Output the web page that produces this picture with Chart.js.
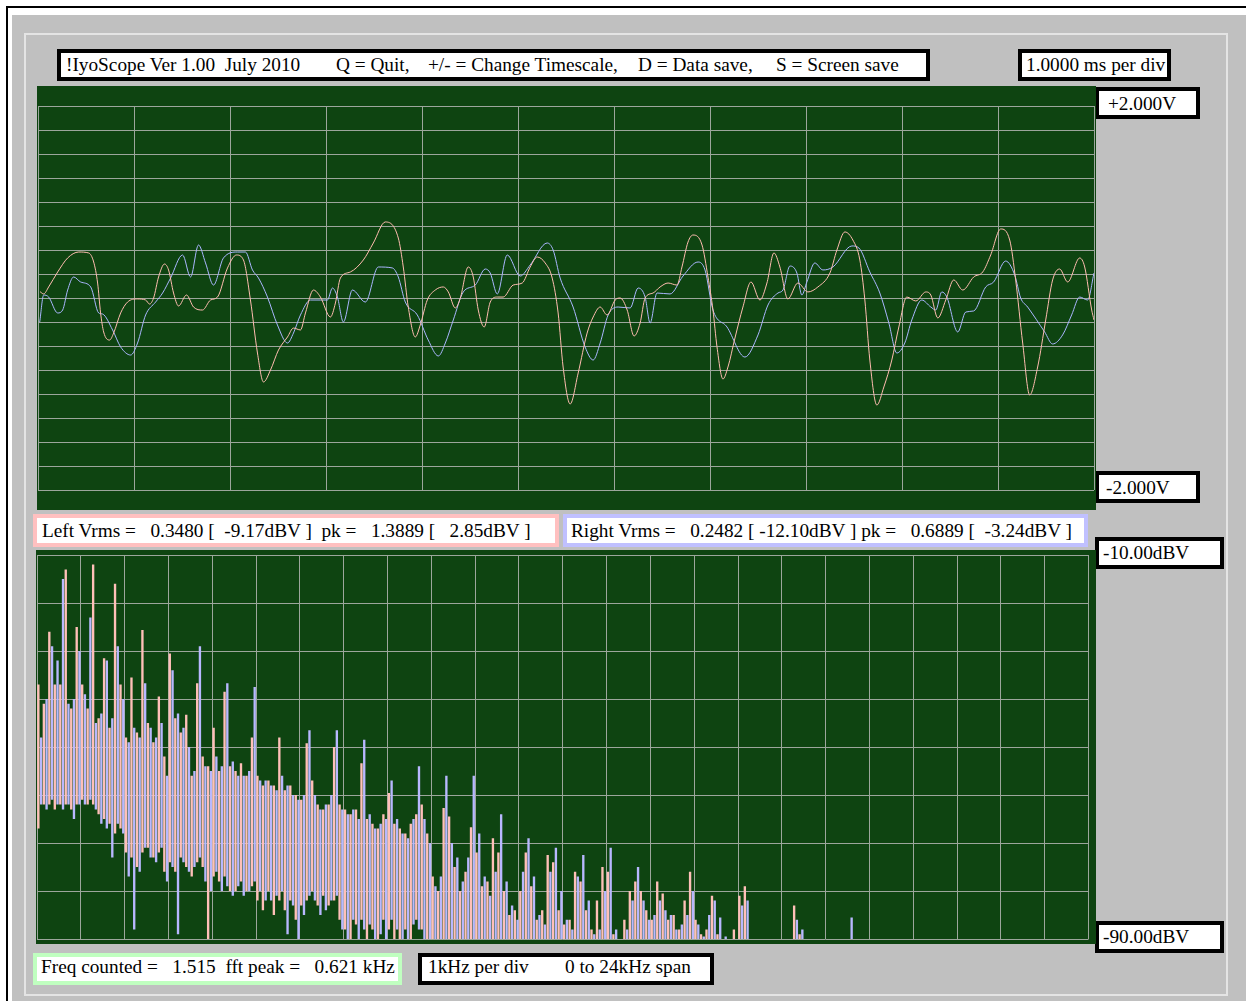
<!DOCTYPE html>
<html>
<head>
<meta charset="utf-8">
<title>!IyoScope</title>
<script src="https://cdn.jsdelivr.net/npm/chart.js@4.4.1/dist/chart.umd.min.js"></script>
<style>
  html, body { margin: 0; padding: 0; background: #fff; width: 1246px; height: 1001px; overflow: hidden; position: relative; }
  #frame { position: absolute; left: 6px; top: 6px; width: 1400px; height: 1200px; border-left: 2px solid #000; border-top: 2px solid #000; }
  #panel { position: absolute; left: 12px; top: 15px; width: 1400px; height: 1200px; background: #c0c0c0; }
  #inner { position: absolute; left: 24px; top: 33px; width: 1200px; height: 959px; border: 2px solid #e4e4e4; }
  .box { position: absolute; background: #fff; box-sizing: border-box; border: 4px solid #000; }
  .t { position: absolute; font-family: "Liberation Serif", "Times New Roman", serif; font-size: 19.3px; line-height: 19px; color: #000; white-space: pre; }
  canvas { position: absolute; background: #0e4411; }
</style>
</head>
<body>
<div id="frame"></div>
<div id="panel"></div>
<div id="inner"></div>

<!-- header -->
<div class="box" style="left:57px;top:49px;width:873px;height:32px;"></div>
<span class="t" style="left:66px;top:55px;">!IyoScope Ver 1.00  July 2010</span>
<span class="t" style="left:336px;top:55px;">Q = Quit,</span>
<span class="t" style="left:428px;top:55px;">+/- = Change Timescale,</span>
<span class="t" style="left:638px;top:55px;">D = Data save,</span>
<span class="t" style="left:776px;top:55px;">S = Screen save</span>

<div class="box" style="left:1018px;top:49px;width:153px;height:32px;"></div>
<span class="t" style="left:1026px;top:55px;">1.0000 ms per div</span>

<!-- waveform scale labels -->
<div class="box" style="left:1095px;top:87px;width:105px;height:32px;"></div>
<span class="t" style="left:1108px;top:94px;">+2.000V</span>
<div class="box" style="left:1095px;top:471px;width:105px;height:32px;"></div>
<span class="t" style="left:1106px;top:478px;">-2.000V</span>

<!-- channel readouts -->
<div class="box" style="left:33px;top:514px;width:526px;height:33px;border-color:#ffc0c0;"></div>
<span class="t" style="left:42px;top:521px;">Left Vrms =   0.3480 [  -9.17dBV ]  pk =   1.3889 [   2.85dBV ]</span>
<div class="box" style="left:563px;top:514px;width:525px;height:33px;border-color:#c0c0ff;"></div>
<span class="t" style="left:571px;top:521px;">Right Vrms =   0.2482 [ -12.10dBV ] pk =   0.6889 [  -3.24dBV ]</span>

<!-- spectrum scale labels -->
<div class="box" style="left:1095px;top:537px;width:129px;height:32px;"></div>
<span class="t" style="left:1103px;top:543px;">-10.00dBV</span>
<div class="box" style="left:1095px;top:921px;width:129px;height:32px;"></div>
<span class="t" style="left:1103px;top:927px;">-90.00dBV</span>

<!-- footer -->
<div class="box" style="left:33px;top:953px;width:369px;height:32px;border-color:#c0ffc0;"></div>
<span class="t" style="left:41px;top:957px;">Freq counted =   1.515  fft peak =   0.621 kHz</span>
<div class="box" style="left:418px;top:953px;width:296px;height:32px;"></div>
<span class="t" style="left:428px;top:957px;">1kHz per div</span>
<span class="t" style="left:565px;top:957px;">0 to 24kHz span</span>

<canvas id="wave" width="1059" height="424" style="left:37px;top:86px;"></canvas>
<canvas id="spec" width="1060" height="394" style="left:36px;top:550px;"></canvas>

<script>
// ---- Time-domain capture: time in ms, level in volts ----
const leftTimeMs = [
  0.021,0.059,0.111,0.205,0.309,0.424,0.528,0.580,0.621,0.652,
  0.684,0.746,0.788,0.861,0.933,1.037,1.121,1.162,1.204,1.256,
  1.318,1.360,1.412,1.464,1.547,1.620,1.714,1.797,1.870,1.974,
  2.068,2.140,2.213,2.286,2.349,2.422,2.505,2.599,2.661,2.734,
  2.786,2.869,2.942,3.046,3.098,3.150,3.254,3.389,3.493,3.618,
  3.753,3.805,3.857,3.930,3.982,4.055,4.138,4.222,4.274,4.347,
  4.399,4.482,4.534,4.586,4.648,4.711,4.784,4.846,4.950,5.044,
  5.127,5.200,5.283,5.356,5.418,5.470,5.543,5.627,5.720,5.783,
  5.856,5.928,6.012,6.064,6.137,6.209,6.272,6.324,6.407,6.480,
  6.563,6.656,6.708,6.771,6.823,6.917,6.979,7.031,7.073,7.135,
  7.187,7.260,7.343,7.427,7.520,7.593,7.666,7.728,7.811,7.915,
  8.020,8.124,8.249,8.322,8.405,8.488,8.561,8.613,8.665,8.738,
  8.811,8.894,8.967,9.050,9.144,9.248,9.300,9.373,9.456,9.539,
  9.633,9.747,9.841,9.924,10.028,10.122,10.184,10.257,10.330,10.413,
  10.497,10.569,10.642,10.726,10.851,10.903,10.976,11.0
];
const leftVolts = [
  0.066,0.042,0.115,0.271,0.417,0.479,0.469,0.375,0.156,-0.156,
  -0.354,-0.438,-0.365,-0.156,-0.042,-0.010,-0.021,-0.063,0,0.219,
  0.354,0.292,0.052,-0.083,0.031,-0.094,-0.125,-0.021,0.010,0.313,
  0.448,0.396,-0.021,-0.573,-0.875,-0.750,-0.542,-0.406,-0.313,-0.333,
  -0.156,0.083,0.010,-0.198,-0.052,0.208,0.271,0.396,0.573,0.792,
  0.625,0.323,-0.094,-0.406,-0.281,-0.021,0.083,0.115,0.063,-0.104,
  0,0.323,0.219,-0.125,-0.302,-0.042,0.010,0.010,0.135,0.156,
  0.323,0.427,0.365,0.208,-0.156,-0.719,-1.104,-0.781,-0.365,-0.198,
  -0.094,-0.177,-0.021,0,-0.125,-0.396,-0.260,0,0.052,0.115,
  0.156,0.135,0.323,0.583,0.656,0.552,0.219,-0.125,-0.510,-0.844,
  -0.719,-0.417,-0.094,0.167,-0.021,0.156,0.469,0.323,-0.010,0.156,
  0.063,0.115,0.260,0.500,0.688,0.604,0.396,-0.021,-0.646,-1.115,
  -0.927,-0.646,-0.302,0.010,-0.031,0.063,0.031,-0.208,-0.021,0.188,
  0.083,0.219,0.271,0.448,0.719,0.604,0.188,-0.469,-1.010,-0.719,
  -0.229,0.188,0.302,0.167,0.417,0.323,-0.125,-0.229
];
const rightTimeMs = [
  0.018,0.059,0.111,0.205,0.257,0.309,0.371,0.444,0.549,0.632,
  0.673,0.777,0.861,0.965,1.037,1.121,1.225,1.298,1.381,1.506,
  1.589,1.672,1.745,1.828,1.932,2.078,2.161,2.234,2.297,2.390,
  2.494,2.599,2.661,2.734,2.838,2.942,3.015,3.067,3.119,3.181,
  3.275,3.410,3.545,3.691,3.753,3.826,3.951,4.065,4.170,4.243,
  4.326,4.430,4.555,4.659,4.711,4.784,4.888,5.023,5.127,5.304,
  5.366,5.439,5.574,5.699,5.783,5.856,5.939,6.043,6.168,6.251,
  6.324,6.376,6.448,6.584,6.719,6.875,6.948,7.031,7.177,7.364,
  7.500,7.604,7.708,7.760,7.833,7.905,7.957,8.009,8.092,8.176,
  8.280,8.478,8.551,8.665,8.769,8.863,8.946,9.029,9.102,9.206,
  9.300,9.352,9.414,9.467,9.581,9.664,9.747,9.872,9.955,10.080,
  10.174,10.236,10.309,10.486,10.569,10.673,10.767,10.851,10.934,11.0
];
const rightVolts = [
  -0.250,0.031,0.010,-0.156,-0.125,0.083,0.219,0.167,0.115,-0.156,
  -0.167,-0.333,-0.510,-0.594,-0.469,-0.177,-0.042,0.052,0.208,0.448,
  0.219,0.552,0.365,0.135,0.417,0.479,0.479,0.292,0.208,0.010,
  -0.281,-0.469,-0.365,-0.177,-0.021,-0.021,-0.021,0.104,0.010,-0.250,
  0.083,-0.042,0.323,0.313,0.219,-0.042,-0.177,-0.438,-0.604,-0.469,
  -0.229,0.063,0.135,0.302,0.260,0.042,0.448,0.229,0.344,0.573,
  0.500,0.208,-0.094,-0.510,-0.646,-0.469,-0.177,-0.094,-0.104,0.104,
  0.010,-0.260,0.052,0.042,0.229,0.375,0.292,-0.125,-0.302,-0.615,
  -0.385,-0.073,0.052,0.083,0.333,0.260,0.031,0.167,0.365,0.292,
  0.323,0.542,0.521,0.271,0.052,-0.260,-0.573,-0.469,-0.229,-0.021,
  -0.094,-0.125,0.063,0.010,-0.354,-0.146,-0.135,0.115,0.167,0.385,
  0.240,0,-0.094,-0.354,-0.479,-0.385,-0.177,0.010,-0.021,0.260
];

// ---- Spectrum: 0.125 kHz bins from 0 Hz; top and bottom of each bin's trace in dBV ----
const leftPeakDb = [
  -37,-41,-26,-37,-37,-13,-42,-25,-37,-42,
  -12,-44,-31.5,-46,-16,-37,-48,-35.5,-47,-25.6,
  -45,-49,-39.5,-52,-30.5,-44,-47,-43.3,-56,-36.7,
  -52,-54,-46,-55,-38.5,-54,-55,-53.4,-56,-48,
  -56,-58,-57,-58,-48,-59,-58,-60,-61,-49.2,
  -57,-62,-63,-62,-50,-62,-63,-64,-63,-53.4,
  -65,-66,-67,-64,-59.6,-66,-67,-68,-66,-64,
  -62,-68,-77,-80,-62.7,-64.5,-75,-80,-76,-66.7,
  -72,-79,-78,-69,-72,-80,-85,-84,-80,-72,
  -79,-86,-84,-72.5,-74,-84,-87,-86,-76,-78,
  -84,-88,-82,-75,-76,-89,null,-86,-80,-78,
  -80,-84,-86,-78,-80.5,-86,-85,-88,-82,-76,
  -86,-89,-88,-81,-89,null,null,-88,-81,-79,
  null,null,null,null,null,null,null,null,-83,-89,
  null,null,null,null,null,null,null,null,null
];
const leftFloorDb = [
  -67,-62,-62,-63,-62,-62,-63,-62,-61,-62,
  -62,-64,-65,-66,-68,-67,-72,-73,-75,-72,
  -71,-73,-72,-76,-74,-76,-73,-75,-77,-74,
  -75,-90,-77,-78,-77,-80,-80,-78,-80,-79,
  -82,-84,-80,-85,-82,-84,-82,-86,-83,-82,
  -80,-83,-81,-83,-82,-86,-88,-90,-87,-86,
  -90,-88,-90,-86,-88,-90,-90,-88,-90,-86,
  -88,-90,-90,-90,-90,-90,-90,-90,-90,-90,
  -90,-90,-90,-90,-90,-90,-90,-90,-90,-90,
  -90,-90,-90,-90,-90,-90,-90,-90,-90,-90,
  -90,-90,-90,-90,-90,-90,-90,-90,-90,-90,
  -90,-90,-90,-90,-90,-90,-90,-90,-90,-90,
  -90,-90,-90,-90,-90,-90,-90,-90,-90,-90,
  -90,-90,-90,-90,-90,-90,-90,-90,-90,-90,
  -90,-90,-90,-90,-90,-90,-90,-90,-90
];
const rightPeakDb = [
  -48,-40,-29,-32,-15,-41,-40,-30,-39,-23,
  -45,-43,-32,-44,-29,-40,-49,-46,-48,-36.7,
  -46,-48,-45,-56,-34,-43,-46,-50,-55,-29,
  -54,-55,-52,-54,-36.7,-53,-56,-56,-55,-37.5,
  -57,-57,-58,-59,-56,-58,-60,-61,-60,-46.5,
  -60,-63,-62,-60,-46.5,-63,-64,-63,-65,-48.5,
  -64,-67,-66,-65,-57,-65,-68,-69,-65,-54,
  -65,-70,-79,-77,-56,-70,-73,-78,-73,-56,
  -68,-77,-81,-76,-64,-78,-83,-86,-76,-69,
  -77,-85,-87,-76,-71,-80,-86,-88,-77,-72.5,
  -82,-89,-88,-80,-71,-88,null,-88,-82,-75,
  -82,-86,-85,-82,-84,-85,-88,-87,-85,-80,
  -87,-89.5,-85,-82,-85.5,-89.5,null,null,-83,-82,
  null,null,null,null,null,null,null,null,-86,-88,
  null,null,null,null,null,null,null,null,-85.5
];
const rightFloorDb = [
  -62,-63,-61,-62,-63,-62,-65,-62,-62,-61,
  -63,-66,-67,-73,-66,-68,-77,-88,-76,-71,
  -73,-74,-71,-78,-75,-89,-74,-76,-75,-73,
  -78,-80,-76,-80,-79,-81,-79,-81,-80,-78,
  -80,-82,-82,-81,-80,-89,-83,-90,-85,-81,
  -82,-85,-84,-82,-81,-88,-90,-86,-90,-88,
  -87,-90,-89,-90,-86,-88,-90,-90,-87,-88,
  -90,-90,-90,-90,-90,-90,-90,-90,-90,-90,
  -90,-90,-90,-90,-90,-90,-90,-90,-90,-90,
  -90,-90,-90,-90,-90,-90,-90,-90,-90,-90,
  -90,-90,-90,-90,-90,-90,-90,-90,-90,-90,
  -90,-90,-90,-90,-90,-90,-90,-90,-90,-90,
  -90,-90,-90,-90,-90,-90,-90,-90,-90,-90,
  -90,-90,-90,-90,-90,-90,-90,-90,-90,-90,
  -90,-90,-90,-90,-90,-90,-90,-90,-90
];

// ---- Display settings ----
const MS_PER_DIV = 1, TIME_DIVS = 11;
const VOLT_TOP = 2, VOLT_BOTTOM = -2, VOLT_STEP = 0.25;
const DB_TOP = -10, DB_BOTTOM = -90, DB_STEP = 10;
const SPAN_KHZ = 24, BIN_KHZ = 0.125;

const LEFT_COLOR = '#ffbcb0';
const RIGHT_COLOR = '#aab6ff';
const LEFT_BAR = '#ffc0b8';
const RIGHT_BAR = '#b8b8ff';
const GRID = '#9ca69c';

const specBins = Array.from({ length: Math.round(SPAN_KHZ / BIN_KHZ) }, (_, i) => (i * BIN_KHZ).toFixed(3));

const pairs = (t, v) => t.map((x, i) => ({ x, y: v[i] }));
const ranges = (hi, lo) => hi.map((h, i) => (h === null ? null : [lo[i], h]));

const gridAxis = (min, max, step, extra) => Object.assign({
  type: 'linear', min, max, offset: false,
  ticks: { display: false, stepSize: step },
  grid: { color: GRID, lineWidth: 1, drawTicks: false, offset: false },
  border: { display: false }
}, extra || {});

const common = {
  responsive: false,
  animation: false,
  devicePixelRatio: 1,
  events: [],
  plugins: { legend: { display: false }, tooltip: { enabled: false } }
};

// Time-domain view
new Chart(document.getElementById('wave'), {
  type: 'line',
  data: {
    datasets: [
      { data: pairs(leftTimeMs, leftVolts), borderColor: LEFT_COLOR, borderWidth: 1,
        pointRadius: 0, cubicInterpolationMode: 'monotone' },
      { data: pairs(rightTimeMs, rightVolts), borderColor: RIGHT_COLOR, borderWidth: 1,
        pointRadius: 0, cubicInterpolationMode: 'monotone' }
    ]
  },
  options: Object.assign({}, common, {
    layout: { padding: { left: 1, right: 2, top: 20, bottom: 20 } },
    scales: {
      x: gridAxis(0, MS_PER_DIV * TIME_DIVS, MS_PER_DIV),
      y: gridAxis(VOLT_BOTTOM, VOLT_TOP, VOLT_STEP)
    }
  })
});

// Spectrum view
new Chart(document.getElementById('spec'), {
  type: 'bar',
  data: {
    labels: specBins,
    datasets: [
      { data: ranges(leftPeakDb, leftFloorDb), backgroundColor: LEFT_BAR, borderWidth: 0,
        xAxisID: 'xBins', yAxisID: 'y', categoryPercentage: 1, barPercentage: 0.86 },
      { data: ranges(rightPeakDb, rightFloorDb), backgroundColor: RIGHT_BAR, borderWidth: 0,
        xAxisID: 'xBins', yAxisID: 'y', categoryPercentage: 1, barPercentage: 0.86 }
    ]
  },
  options: Object.assign({}, common, {
    layout: { padding: { left: 1, right: 7.5, top: 5, bottom: 5 } },
    scales: {
      xBins: { type: 'category', axis: 'x', position: 'bottom', display: false, offset: true },
      x: gridAxis(0, SPAN_KHZ, 1, { position: 'bottom' }),
      y: gridAxis(DB_BOTTOM, DB_TOP, DB_STEP, { beginAtZero: false })
    }
  })
});
</script>
</body>
</html>
